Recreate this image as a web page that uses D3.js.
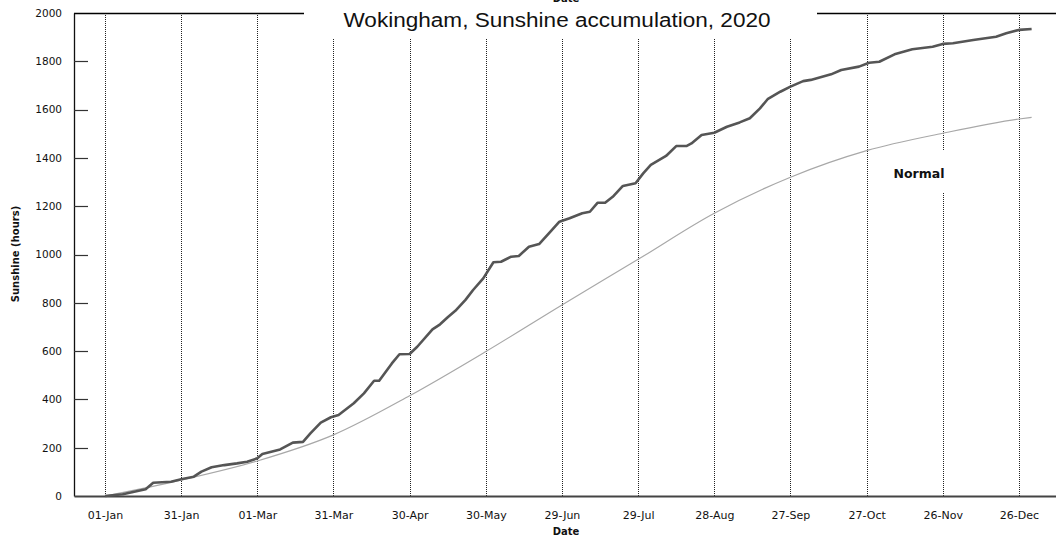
<!DOCTYPE html>
<html>
<head>
<meta charset="utf-8">
<script src="https://cdn.jsdelivr.net/npm/d3@7"></script>
<style>
  html, body { margin: 0; padding: 0; background: #fff; overflow: hidden; }
  svg { display: block; }
</style>
</head>
<body>
<svg id="chart" width="1056" height="541"></svg>
<script>
// ---- data (day of year 2020, cumulative sunshine hours) ----
const actual = [
  [0,0],[7,7],[16,28],[19,55],[26,59],[30,69],[35,80],[38,101],[42,119],[47,128],
  [52,135],[56,142],[60,156],[62,174],[69,193],[74,221],[78,224],[81,260],[85,304],[89,326],
  [92,335],[98,384],[102,425],[106,477],[108,477],[113,549],[116,587],[120,588],[123,618],[129,690],
  [132,711],[135,740],[138,767],[142,812],[145,853],[149,901],[153,968],[156,970],[160,991],[163,994],
  [167,1032],[171,1043],[176,1101],[179,1136],[183,1150],[188,1171],[191,1177],[194,1214],[197,1214],[200,1239],
  [204,1284],[209,1295],[212,1336],[215,1371],[221,1408],[225,1449],[229,1449],[231,1460],[235,1495],[240,1504],
  [245,1529],[250,1547],[254,1564],[258,1605],[261,1643],[266,1674],[270,1695],[275,1718],[278,1723],[286,1746],
  [290,1764],[297,1778],[301,1794],[305,1798],[311,1829],[318,1850],[326,1860],[330,1872],[334,1875],[342,1888],
  [351,1902],[355,1916],[360,1930],[365,1934]
];
const normal = [
  [0,0],[30,66],[60,145],[90,253],[120,415],[150,598],[180,791],[210,980],
  [240,1171],[270,1320],[300,1430],[330,1502],[360,1561],[365,1568]
];
const tickDays = [0,30,60,90,120,150,180,210,240,270,300,330,360];
const tickLabels = ["01-Jan","31-Jan","01-Mar","31-Mar","30-Apr","30-May","29-Jun","29-Jul","28-Aug","27-Sep","27-Oct","26-Nov","26-Dec"];
const yTicks = [0,200,400,600,800,1000,1200,1400,1600,1800,2000];
const titleText = "Wokingham, Sunshine accumulation, 2020";
const normalLabel = "Normal";

(function () {
// ---- layout ----
const pL = 74, pR = 1056, pT = 13, pB = 496;
const svg = d3.select("#chart");
const x = d3.scaleLinear().domain([-12.2, 374.6]).range([pL, pR]);
const y = d3.scaleLinear().domain([0, 2000]).range([pB, pT]);

// gridlines (dotted)
svg.append("g").selectAll("line").data(tickDays).join("line")
  .attr("x1", d => Math.round(x(d)) + 0.5).attr("x2", d => Math.round(x(d)) + 0.5)
  .attr("y1", pT).attr("y2", pB)
  .attr("stroke", "#222").attr("stroke-width", 1).attr("stroke-dasharray", "1,1");

// top border
svg.append("line").attr("x1", pL).attr("x2", pR).attr("y1", pT + 0.5).attr("y2", pT + 0.5)
  .attr("stroke", "#000").attr("stroke-width", 1.3);

// white boxes behind title and Normal label
svg.append("rect").attr("x", 304).attr("y", 0).attr("width", 513).attr("height", 38).attr("fill", "#fff");
svg.append("rect").attr("x", 888).attr("y", 150).attr("width", 62).attr("height", 43).attr("fill", "#fff");

// y axis
const yAxis = d3.axisLeft(y).tickValues(yTicks).tickSize(0).tickPadding(12).tickFormat(d3.format("d"));
const gy = svg.append("g").attr("transform", `translate(${pL},0)`).call(yAxis);
gy.select(".domain").attr("stroke", "#111").attr("stroke-width", 1.3);
gy.selectAll("text").attr("font-family", "DejaVu Sans").attr("font-size", "10.5px").attr("fill", "#111");
// inward tick marks
svg.append("g").selectAll("line").data(yTicks.filter(d => d > 0 && d < 2000)).join("line")
  .attr("x1", pL).attr("x2", pL + 14)
  .attr("y1", d => Math.round(y(d)) + 0.5).attr("y2", d => Math.round(y(d)) + 0.5)
  .attr("stroke", "#333").attr("stroke-width", 1.2);

// x axis
const xAxis = d3.axisBottom(x).tickValues(tickDays).tickSize(0).tickPadding(15)
  .tickFormat((d, i) => tickLabels[i]);
const gx = svg.append("g").attr("transform", `translate(0,${pB})`).call(xAxis);
gx.select(".domain").attr("stroke", "#444").attr("stroke-width", 1.8);
gx.selectAll("text").attr("font-family", "DejaVu Sans").attr("font-size", "11px").attr("fill", "#111");

// lines
svg.append("path").datum(normal)
  .attr("d", d3.line().x(d => x(d[0])).y(d => y(d[1])).curve(d3.curveMonotoneX))
  .attr("fill", "none").attr("stroke", "#a8a8a8").attr("stroke-width", 1.2);
svg.append("path").datum(actual)
  .attr("d", d3.line().x(d => x(d[0])).y(d => y(d[1])))
  .attr("fill", "none").attr("stroke", "#555").attr("stroke-width", 2.6).attr("stroke-linejoin", "round");

// title
svg.append("text").attr("x", 557).attr("y", 27).attr("text-anchor", "middle")
  .attr("font-family", "Liberation Sans, Arial, sans-serif").attr("font-size", "20px")
  .attr("textLength", 427).attr("lengthAdjust", "spacingAndGlyphs")
  .attr("fill", "#111").text(titleText);

// clipped Date label at top
svg.append("text").attr("x", 566).attr("y", 2).attr("text-anchor", "middle")
  .attr("font-family", "DejaVu Sans").attr("font-weight", "bold").attr("font-size", "10px")
  .attr("fill", "#111").text("Date");

// axis titles
svg.append("text").attr("x", 566).attr("y", 535).attr("text-anchor", "middle")
  .attr("font-family", "DejaVu Sans").attr("font-weight", "bold").attr("font-size", "10px")
  .attr("fill", "#111").text("Date");
svg.append("text").attr("transform", "translate(19,254) rotate(-90)").attr("text-anchor", "middle")
  .attr("font-family", "DejaVu Sans").attr("font-weight", "bold").attr("font-size", "10px")
  .attr("fill", "#111").text("Sunshine (hours)");

// Normal label
svg.append("text").attr("x", 919).attr("y", 178).attr("text-anchor", "middle")
  .attr("font-family", "DejaVu Sans").attr("font-weight", "bold").attr("font-size", "12.5px")
  .attr("fill", "#111").text(normalLabel);
})();
</script>
</body>
</html>
